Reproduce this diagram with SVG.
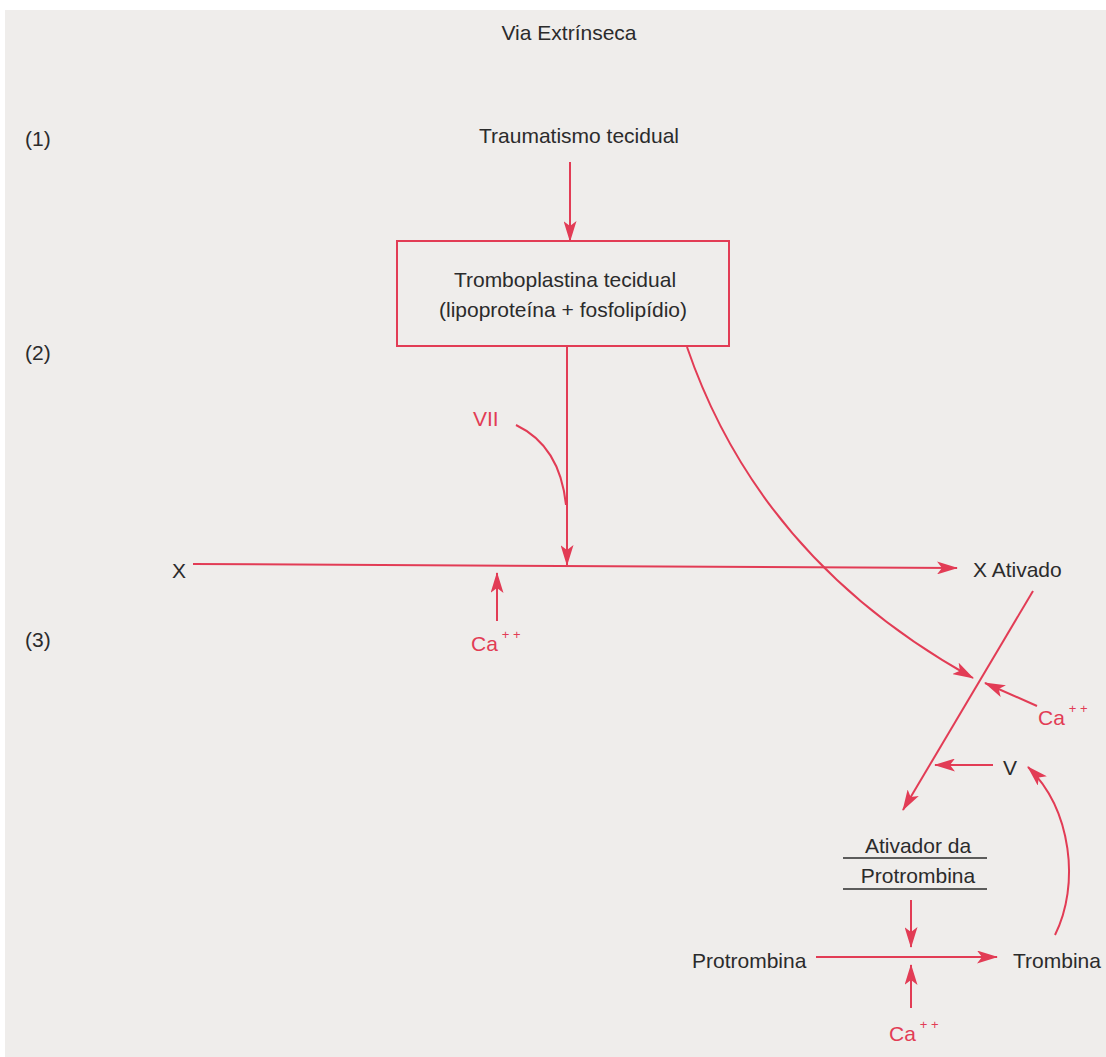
<svg xmlns="http://www.w3.org/2000/svg" width="1106" height="1057" viewBox="0 0 1106 1057">
<style>
.t{font-family:"Liberation Sans",Arial,sans-serif;font-size:21px;fill:#2b2b2b}
.r{font-family:"Liberation Sans",Arial,sans-serif;font-size:21px;fill:#e23c55}
.sup{font-size:13px}
.ln{fill:none;stroke:#e23c55;stroke-width:2}
.ul{stroke:#2b2b2b;stroke-width:1.6}
</style>
<defs>
<marker id="ah" viewBox="0 0 21 13" refX="20" refY="6.5" markerWidth="21" markerHeight="13" markerUnits="userSpaceOnUse" orient="auto">
<path d="M0,0 L21,6.5 L0,13 L5,6.5 Z" fill="#e23c55"/>
</marker>
</defs>
<rect x="0" y="0" width="1106" height="1057" fill="#ffffff"/>
<rect x="5" y="10" width="1101" height="1047" fill="#efedeb"/>

<g id="labels">
<text class="t" x="25" y="146">(1)</text>
<text class="t" x="25" y="360">(2)</text>
<text class="t" x="25" y="647">(3)</text>
<text class="t" x="569" y="40" text-anchor="middle">Via Extrínseca</text>
</g>

<g id="connectors">
<path class="ln" d="M570,162 L570,241" marker-end="url(#ah)"/>
<path class="ln" d="M567,346 L567,565" marker-end="url(#ah)"/>
<path class="ln" d="M516,425 Q560,446 566,505"/>
<path class="ln" d="M193,564 L957,568" marker-end="url(#ah)"/>
<path class="ln" d="M497,621 L497,573" marker-end="url(#ah)"/>
<path class="ln" d="M687,347 Q760,560 973,678" marker-end="url(#ah)"/>
<path class="ln" d="M1033,591 L903,810" marker-end="url(#ah)"/>
<path class="ln" d="M1037,706 L985,683" marker-end="url(#ah)"/>
<path class="ln" d="M993,765 L935,765" marker-end="url(#ah)"/>
<path class="ln" d="M1055,935 C1080,885 1072,810 1028,767" marker-end="url(#ah)"/>
<path class="ln" d="M911,900 L911,947" marker-end="url(#ah)"/>
<path class="ln" d="M816,957 L997,957" marker-end="url(#ah)"/>
<path class="ln" d="M911,1008 L911,965" marker-end="url(#ah)"/>
</g>

<g id="traumatismo">
<text class="t" x="579" y="143" text-anchor="middle">Traumatismo tecidual</text>
</g>
<g id="tromboplastina">
<rect x="397" y="241" width="332" height="105" fill="none" stroke="#e23c55" stroke-width="2"/>
<text class="t" x="565" y="287" text-anchor="middle">Tromboplastina tecidual</text>
<text class="t" x="563" y="317" text-anchor="middle">(lipoproteína + fosfolipídio)</text>
</g>
<g id="vii"><text class="r" x="473" y="426">VII</text></g>
<g id="x"><text class="t" x="172" y="578">X</text></g>
<g id="ca1"><text class="r" x="471" y="651">Ca<tspan class="sup" dx="4" dy="-12">+ +</tspan></text></g>
<g id="xativado"><text class="t" x="973" y="577">X Ativado</text></g>
<g id="ca2"><text class="r" x="1038" y="725">Ca<tspan class="sup" dx="4" dy="-12">+ +</tspan></text></g>
<g id="v"><text class="t" x="1003" y="775">V</text></g>
<g id="ativador">
<text class="t" x="918" y="853" text-anchor="middle">Ativador da</text>
<line class="ul" x1="843" y1="858" x2="987" y2="858"/>
<text class="t" x="918" y="883" text-anchor="middle">Protrombina</text>
<line class="ul" x1="843" y1="889" x2="987" y2="889"/>
</g>
<g id="protrombina"><text class="t" x="692" y="968">Protrombina</text></g>
<g id="trombina"><text class="t" x="1013" y="968">Trombina</text></g>
<g id="ca3"><text class="r" x="889" y="1041">Ca<tspan class="sup" dx="4" dy="-12">+ +</tspan></text></g>
</svg>
